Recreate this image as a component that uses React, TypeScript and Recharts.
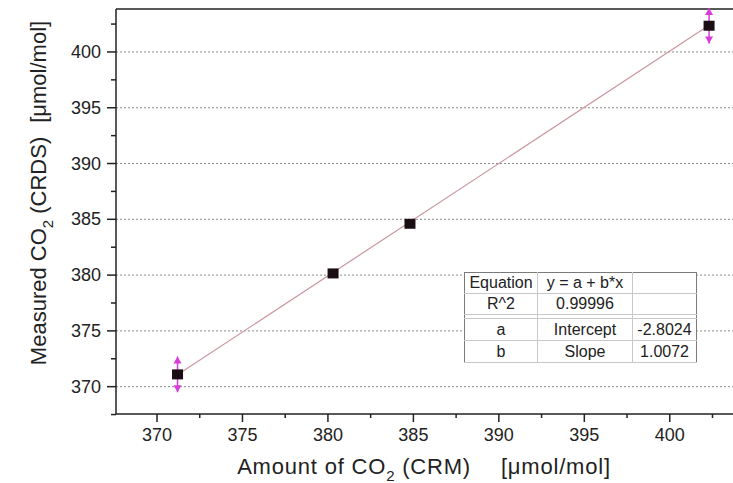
import React from 'react';
import {
  ScatterChart,
  Scatter,
  XAxis,
  YAxis,
  ReferenceLine,
  ErrorBar,
} from 'recharts';

// CO2 from the reference material (CRM) vs. CO2 measured by CRDS, µmol/mol
const crmValues = [371.2, 380.3, 384.8, 402.3];
const crdsValues = [371.1, 380.15, 384.6, 402.35];
const crdsErrors = [1.6, 0, 0, 1.6];

const xMajorTicks = [370, 375, 380, 385, 390, 395, 400];
const xMinorTicks = [372.5, 377.5, 382.5, 387.5, 392.5, 397.5, 402.5];
const yMajorTicks = [370, 375, 380, 385, 390, 395, 400];
const yMinorTicks = [367.5, 372.5, 377.5, 382.5, 387.5, 392.5, 397.5, 402.5];

// linear fit y = a + b*x
const fitIntercept = -2.8024;
const fitSlope = 1.0072;
const fitR2 = '0.99996';

const X_DOMAIN: [number, number] = [367.6, 403.7];
const Y_DOMAIN: [number, number] = [367.55, 403.85];

const FONT = '"Liberation Sans", Arial, sans-serif';
const AXIS = '#222';
const ERR = '#d83cd8';
const CELL_LINE = '1px solid #c8c8c8';

const points = crmValues.map((x, i) => ({ x, y: crdsValues[i], err: crdsErrors[i] }));
const tipsUp = points.filter((p) => p.err > 0).map((p) => ({ x: p.x, y: p.y + p.err }));
const tipsDown = points.filter((p) => p.err > 0).map((p) => ({ x: p.x, y: p.y - p.err }));

const fitX0 = Math.min(...crmValues);
const fitX1 = Math.max(...crmValues);

const XTick = (props: any) => {
  const { x, y, payload } = props;
  const major = xMajorTicks.includes(payload.value);
  return (
    <g>
      <line x1={x} y1={y} x2={x} y2={y + (major ? 8 : 4)} stroke={AXIS} strokeWidth={1.5} />
      {major && (
        <text x={x} y={y + 27} textAnchor="middle" fontSize={18} fill="#222" fontFamily={FONT}>
          {payload.value}
        </text>
      )}
    </g>
  );
};

const YTick = (props: any) => {
  const { x, y, payload } = props;
  const major = yMajorTicks.includes(payload.value);
  return (
    <g>
      <line x1={x} y1={y} x2={x - (major ? 9 : 5)} y2={y} stroke={AXIS} strokeWidth={1.5} />
      {major && (
        <text x={x - 15} y={y + 6} textAnchor="end" fontSize={18} fill="#222" fontFamily={FONT}>
          {payload.value}
        </text>
      )}
    </g>
  );
};

const Square = (props: any) => {
  const { cx, cy } = props;
  return <rect x={cx - 5.5} y={cy - 5} width={11} height={10} fill="#1b0d14" />;
};

const ArrowUp = (props: any) => {
  const { cx, cy } = props;
  return <polygon points={`${cx},${cy} ${cx - 4},${cy + 7} ${cx + 4},${cy + 7}`} fill={ERR} />;
};

const ArrowDown = (props: any) => {
  const { cx, cy } = props;
  return <polygon points={`${cx},${cy} ${cx - 4},${cy - 7} ${cx + 4},${cy - 7}`} fill={ERR} />;
};

const cell: React.CSSProperties = {
  borderRight: CELL_LINE,
  borderBottom: CELL_LINE,
  textAlign: 'center',
  padding: 0,
  whiteSpace: 'nowrap',
};
const lastCell: React.CSSProperties = { ...cell, borderRight: 'none' };
const spacer: React.CSSProperties = { ...cell, height: 3, lineHeight: 0, fontSize: 0 };

export default function App() {
  return (
    <div
      style={{
        position: 'absolute',
        left: 0,
        top: 0,
        width: 733,
        height: 483,
        overflow: 'hidden',
        background: '#fff',
        fontFamily: FONT,
      }}
    >
      <ScatterChart width={733} height={483} margin={{ top: 9, right: 0, bottom: 39, left: 36 }}>
        <XAxis
          dataKey="x"
          type="number"
          domain={X_DOMAIN}
          ticks={[...xMajorTicks, ...xMinorTicks].sort((a, b) => a - b)}
          interval={0}
          allowDataOverflow
          tick={<XTick />}
          tickLine={false}
          tickSize={0}
          tickMargin={0}
          height={30}
          axisLine={{ stroke: AXIS, strokeWidth: 1.5 }}
        />
        <YAxis
          dataKey="y"
          type="number"
          domain={Y_DOMAIN}
          ticks={[...yMajorTicks, ...yMinorTicks].sort((a, b) => a - b)}
          interval={0}
          allowDataOverflow
          tick={<YTick />}
          tickLine={false}
          tickSize={0}
          tickMargin={0}
          width={80}
          axisLine={{ stroke: AXIS, strokeWidth: 1.5 }}
        />
        {yMajorTicks.map((v) => (
          <ReferenceLine key={v} y={v} stroke="#8a8a8a" strokeDasharray="2 2" strokeWidth={1} />
        ))}
        <ReferenceLine y={Y_DOMAIN[1]} stroke={AXIS} strokeWidth={1.5} />
        <ReferenceLine
          segment={[
            { x: fitX0, y: fitIntercept + fitSlope * fitX0 },
            { x: fitX1, y: fitIntercept + fitSlope * fitX1 },
          ]}
          stroke="#c9969f"
          strokeWidth={1.2}
        />
        <Scatter data={points} shape={<Square />} isAnimationActive={false}>
          <ErrorBar dataKey="err" direction="y" width={0} stroke={ERR} strokeWidth={1.5} isAnimationActive={false} />
        </Scatter>
        <Scatter data={tipsUp} shape={<ArrowUp />} isAnimationActive={false} />
        <Scatter data={tipsDown} shape={<ArrowDown />} isAnimationActive={false} />
        <text x={424} y={474} textAnchor="middle" fontSize={22} letterSpacing={0.8} fill="#222" fontFamily={FONT}>
          Amount of CO
          <tspan fontSize={15} dy={7}>2</tspan>
          <tspan dy={-7}> (CRM)</tspan>
          <tspan dx={30}>[μmol/mol]</tspan>
        </text>
        <text
          x={0}
          y={0}
          transform="translate(46 193) rotate(-90)"
          textAnchor="middle"
          fontSize={22}
          fill="#222"
          fontFamily={FONT}
        >
          Measured CO
          <tspan fontSize={15} dy={7}>2</tspan>
          <tspan dy={-7}> (CRDS)</tspan>
          <tspan dx={14}>[μmol/mol]</tspan>
        </text>
      </ScatterChart>
      <table
        style={{
          position: 'absolute',
          left: 464,
          top: 272,
          width: 232,
          borderCollapse: 'collapse',
          background: '#fff',
          border: '1px solid #7a7a7a',
          fontSize: 16,
          color: '#222',
          fontFamily: FONT,
          tableLayout: 'fixed',
        }}
      >
        <colgroup>
          <col style={{ width: 73 }} />
          <col style={{ width: 95 }} />
          <col style={{ width: 64 }} />
        </colgroup>
        <tbody>
          <tr style={{ height: 21 }}>
            <td style={cell}>Equation</td>
            <td style={cell}>y = a + b*x</td>
            <td style={lastCell}></td>
          </tr>
          <tr style={{ height: 21 }}>
            <td style={cell}>R^2</td>
            <td style={cell}>{fitR2}</td>
            <td style={lastCell}></td>
          </tr>
          <tr style={{ height: 3 }}>
            <td style={spacer}></td>
            <td style={spacer}></td>
            <td style={{ ...spacer, borderRight: 'none' }}></td>
          </tr>
          <tr style={{ height: 22 }}>
            <td style={cell}>a</td>
            <td style={cell}>Intercept</td>
            <td style={lastCell}>{fitIntercept.toFixed(4)}</td>
          </tr>
          <tr style={{ height: 22 }}>
            <td style={cell}>b</td>
            <td style={cell}>Slope</td>
            <td style={lastCell}>{fitSlope.toFixed(4)}</td>
          </tr>
        </tbody>
      </table>
    </div>
  );
}
